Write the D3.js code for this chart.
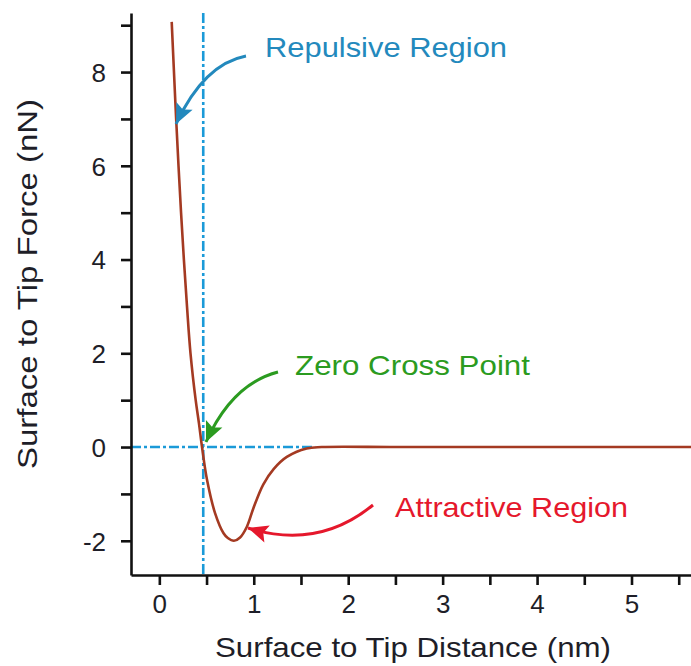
<!DOCTYPE html>
<html>
<head>
<meta charset="utf-8">
<script src="https://cdn.jsdelivr.net/npm/d3@7"></script>
<style>
  html, body { margin: 0; padding: 0; background: #fff; }
  svg { display: block; font-family: Arial, "Liberation Sans", Helvetica, sans-serif; }
</style>
</head>
<body>
<svg id="chart" width="691" height="666"></svg>
<script>
// ---- data ----
const distance = [0.131, 0.155, 0.178, 0.203, 0.23, 0.26, 0.293, 0.33, 0.385, 0.42, 0.452, 0.505, 0.59, 0.68, 0.725, 0.79, 0.855, 0.927, 0.997, 1.10, 1.21, 1.35, 1.56, 1.72, 2.5, 3.5, 4.5, 5.63];
const force    = [9.07, 8.0, 7.0, 6.0, 5.0, 4.0, 3.0, 2.0, 1.0, 0.5, 0, -0.70, -1.41, -1.84, -1.94, -2.0, -1.93, -1.70, -1.30, -0.80, -0.47, -0.21, -0.03, 0, 0, 0, 0, 0];
const xTicks = [0, 0.5, 1, 1.5, 2, 2.5, 3, 3.5, 4, 4.5, 5, 5.5];
const xTickLabels = ["0", "1", "2", "3", "4", "5"];
const yTicks = [-2, -1, 0, 1, 2, 3, 4, 5, 6, 7, 8, 9];
const yTickLabels = ["-2", "0", "2", "4", "6", "8"];
const zeroCross = 0.465;
const zeroLineEnd = 1.65;
const labels = ["Repulsive Region", "Zero Cross Point", "Attractive Region"];
const xTitle = "Surface to Tip Distance (nm)";
const yTitle = "Surface to Tip Force (nN)";

// ---- layout ----
const svg = d3.select("#chart");
const x = d3.scaleLinear().domain([-0.3, 5.63]).range([131, 691]);
const y = d3.scaleLinear().domain([-2.73, 9.26]).range([575, 13]);

const axisColor = "#111";
const labelColor = "#1e1e28";
const dashBlue = "#1b9ad8";

// dashed guide lines
const dash = "10,3,3,3";
svg.append("line")
  .attr("x1", x(zeroCross)).attr("x2", x(zeroCross))
  .attr("y1", y(9.26)).attr("y2", y(-2.73))
  .attr("stroke", dashBlue).attr("stroke-width", 2.6).attr("stroke-dasharray", dash);
svg.append("line")
  .attr("x1", x(-0.3)).attr("x2", x(zeroLineEnd))
  .attr("y1", y(0)).attr("y2", y(0))
  .attr("stroke", dashBlue).attr("stroke-width", 2.6).attr("stroke-dasharray", dash);

// curve
const pts = distance.map((d, i) => [d, force[i]]);
const line = d3.line().x(d => x(d[0])).y(d => y(d[1])).curve(d3.curveCatmullRom.alpha(0.5));
svg.append("path")
  .attr("d", line(pts))
  .attr("fill", "none")
  .attr("stroke", "#a43a22")
  .attr("stroke-width", 2.6)
  .attr("stroke-linejoin", "round");

// axes
const xAxis = d3.axisBottom(x).tickValues(xTicks).tickSize(10).tickSizeOuter(0)
  .tickFormat(d => Number.isInteger(d) && xTickLabels.includes(String(d)) ? String(d) : "");
const gx = svg.append("g").attr("transform", `translate(0,${575})`).call(xAxis);
gx.select(".domain").attr("stroke", axisColor).attr("stroke-width", 2.6);
gx.selectAll(".tick line").attr("stroke", axisColor).attr("stroke-width", 2.6);
gx.selectAll(".tick text").attr("font-size", 26).attr("fill", labelColor)
  .attr("font-family", "Arial, 'Liberation Sans', sans-serif")
  .attr("y", 20).attr("dy", "0.71em");

const yAxis = d3.axisLeft(y).tickValues(yTicks).tickSize(10).tickSizeOuter(0)
  .tickFormat(d => yTickLabels.includes(String(d)) ? String(d) : "");
const gy = svg.append("g").attr("transform", `translate(${131},0)`).call(yAxis);
gy.select(".domain").attr("stroke", axisColor).attr("stroke-width", 2.6);
gy.selectAll(".tick line").attr("stroke", axisColor).attr("stroke-width", 2.6);
gy.selectAll(".tick text").attr("font-size", 26).attr("fill", labelColor)
  .attr("font-family", "Arial, 'Liberation Sans', sans-serif")
  .attr("x", -25).attr("dy", "0.36em");

// axis titles
svg.append("text")
  .attr("x", 413).attr("y", 657)
  .attr("text-anchor", "middle")
  .attr("font-size", 28).attr("fill", labelColor)
  .attr("textLength", 396).attr("lengthAdjust", "spacingAndGlyphs")
  .text(xTitle);
svg.append("text")
  .attr("transform", "translate(37,284) rotate(-90)")
  .attr("text-anchor", "middle")
  .attr("font-size", 28).attr("fill", labelColor)
  .attr("textLength", 370).attr("lengthAdjust", "spacingAndGlyphs")
  .text(yTitle);

// annotations
const defs = svg.append("defs");
function marker(id, color) {
  defs.append("marker")
    .attr("id", id).attr("markerUnits", "userSpaceOnUse")
    .attr("viewBox", "-2 -11 26 22").attr("refX", 20).attr("refY", 0)
    .attr("markerWidth", 26).attr("markerHeight", 22).attr("orient", "auto")
    .append("path").attr("d", "M0,-9 L20,0 L0,9 L4,0 Z").attr("fill", color);
}
const blue = "#2389bd", green = "#2b9b20", red = "#e5182c";
marker("mBlue", blue); marker("mGreen", green); marker("mRed", red);

const annots = [
  { text: labels[0], color: blue, tx: 265, ty: 57, len: 242, path: "M246,56 Q204,64 176,124", m: "mBlue" },
  { text: labels[1], color: green, tx: 295, ty: 375, len: 235, path: "M278,372 Q232,384 206,442", m: "mGreen" },
  { text: labels[2], color: red, tx: 395, ty: 517, len: 233, path: "M373,505 Q318,550 248,528", m: "mRed" }
];
annots.forEach(a => {
  svg.append("path").attr("d", a.path).attr("fill", "none")
    .attr("stroke", a.color).attr("stroke-width", 3)
    .attr("marker-end", `url(#${a.m})`);
  svg.append("text").attr("x", a.tx).attr("y", a.ty)
    .attr("font-size", 28).attr("fill", a.color)
    .attr("textLength", a.len).attr("lengthAdjust", "spacingAndGlyphs")
    .text(a.text);
});
</script>
</body>
</html>
